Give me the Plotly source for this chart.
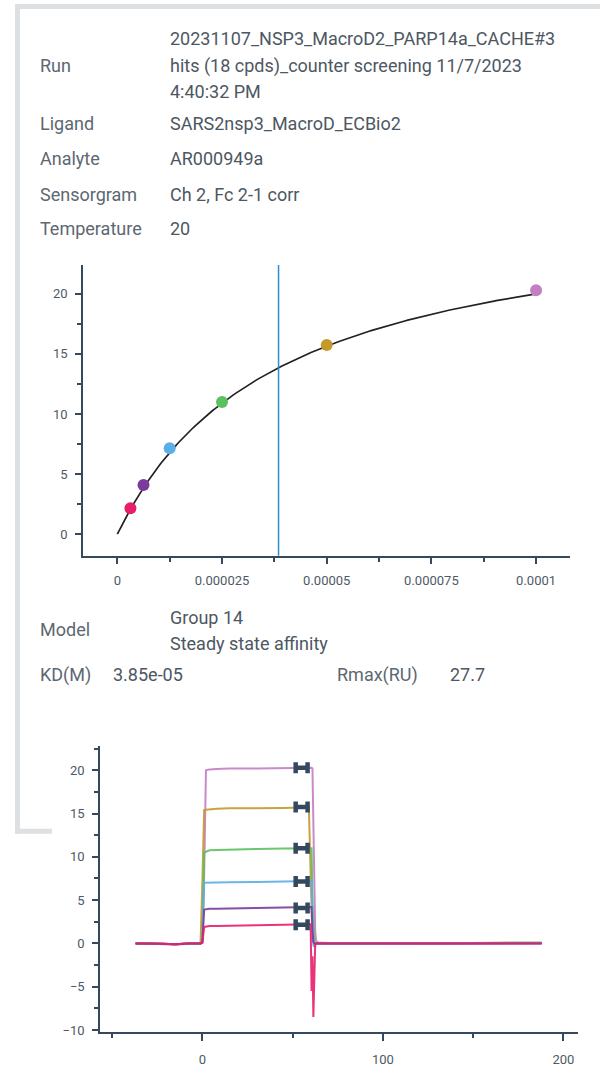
import numpy as np
import plotly.graph_objects as go

W, H = 600, 1067

# ---- steady-state affinity data ----
conc = [3.125e-6, 6.25e-6, 12.5e-6, 25e-6, 50e-6, 100e-6]
resp = [2.15, 4.1, 7.15, 11.0, 15.75, 20.3]
colors = ["#e91e6b", "#7b3a9e", "#5caee6", "#5cc05e", "#c59a2c", "#c47ec4"]
KD = 3.85e-05
RMAX = 27.7

x_tickvals = [0, 0.000025, 0.00005, 0.000075, 0.0001]
x_ticktext = ["0", "0.000025", "0.00005", "0.000075", "0.0001"]
y_tickvals = [0, 5, 10, 15, 20]

# ---- sensorgram data (time in s, response in RU) ----
t = [-37, -30, -22, -15, -8, -1, 0, 1, 2, 4, 8, 15, 30, 45, 55, 59, 60,
     60.5, 61, 61.5, 62, 62.5, 63, 64, 70, 90, 110, 130, 150, 170, 188]
sg_orchid = [0.05, 0.0, -0.1, -0.15, -0.05, 0.0, 0.1, 8.0, 20.0, 20.1, 20.15, 20.2,
             20.2, 20.25, 20.3, 20.3, 20.3, 20.3, 20.2, 14.0, 6.0, 1.5, 0.3, 0.1,
             0.05, 0.0, 0.0, -0.05, 0.0, 0.05, 0.05]
sg_gold = [0.0, 0.05, -0.05, -0.1, 0.0, 0.0, 7.0, 15.4, 15.45, 15.5, 15.55, 15.6,
           15.6, 15.65, 15.7, 15.7, 8.0, 2.0, 0.5, 0.1, 0.0, 0.0, 0.0, 0.05,
           0.0, 0.0, 0.0, 0.0, 0.0, 0.05, 0.05]
sg_green = [0.0, 0.0, -0.05, -0.1, 0.0, 0.0, 0.3, 10.5, 10.6, 10.75, 10.8, 10.85,
            10.9, 10.95, 11.0, 11.0, 11.0, 11.0, 5.0, 1.0, 0.1, 0.0, 0.0, 0.05,
            0.05, 0.0, 0.05, 0.0, 0.05, 0.1, 0.1]
sg_blue = [0.0, 0.0, -0.05, -0.1, 0.0, 0.0, 0.2, 7.0, 7.0, 7.0, 7.05, 7.05,
           7.1, 7.15, 7.2, 7.2, 7.2, 7.2, 3.0, -0.2, -0.4, -0.1, 0.0, 0.0,
           0.0, 0.0, 0.0, 0.0, 0.0, 0.05, 0.05]
sg_purple = [0.0, 0.0, -0.05, -0.1, 0.0, 0.0, 0.1, 3.9, 3.95, 4.0, 4.0, 4.05,
             4.1, 4.15, 4.2, 4.2, 4.2, 4.2, 1.5, 0.2, 0.0, 0.0, 0.0, 0.0,
             0.0, 0.0, 0.0, -0.05, 0.0, 0.0, 0.0]
sg_pink = [0.0, 0.0, -0.05, -0.1, 0.0, 0.0, 0.1, 1.9, 1.95, 2.0, 2.0, 2.05,
           2.1, 2.15, 2.2, 2.2, 2.2, -5.5, -1.5, -8.5, -2.0, -0.2, 0.0, 0.0,
           0.0, 0.0, 0.0, 0.0, 0.0, 0.0, 0.0]
sensorgrams = [sg_pink, sg_purple, sg_blue, sg_green, sg_gold, sg_orchid]
report_time = 55
sg_xticks = [0, 100, 200]
sg_yticks = [-10, -5, 0, 5, 10, 15, 20]

# ---- header text ----
run_lines = ["20231107_NSP3_MacroD2_PARP14a_CACHE#3",
             "hits (18 cpds)_counter screening 11/7/2023",
             "4:40:32 PM"]
info_rows = [("Ligand", "SARS2nsp3_MacroD_ECBio2"),
             ("Analyte", "AR000949a"),
             ("Sensorgram", "Ch 2, Fc 2-1 corr"),
             ("Temperature", "20")]
model_lines = ["Group 14", "Steady state affinity"]

AXIS = "#34495e"
TICKFONT = dict(family="Roboto", size=13, color="#4e5a66")
LABEL = "#5d6772"
VALUE = "#4d5762"
FONT = "Roboto"
FS = 18


def px(x):
    return x / W


def py(y):
    return 1 - y / H


fig = go.Figure()

# fitted steady-state curve
c_fit = np.linspace(0, max(conc), 200)
r_fit = RMAX * c_fit / (KD + c_fit)
fig.add_trace(go.Scatter(x=c_fit, y=r_fit, mode="lines",
                         line=dict(color="#222222", width=1.7),
                         xaxis="x", yaxis="y", hoverinfo="skip"))
fig.add_trace(go.Scatter(x=conc, y=resp, mode="markers",
                         marker=dict(color=colors, size=12, line=dict(width=0)),
                         xaxis="x", yaxis="y"))

# sensorgram curves
order = [5, 4, 3, 2, 1, 0]
for i in order:
    fig.add_trace(go.Scatter(x=t, y=sensorgrams[i], mode="lines",
                             line=dict(color=colors[i], width=2),
                             opacity=0.9, xaxis="x2", yaxis="y2"))

# report points
fig.add_trace(go.Scatter(x=[report_time] * len(resp), y=resp, mode="markers",
                         marker=dict(size=1, color=AXIS),
                         error_x=dict(type="constant", value=3.3, color=AXIS,
                                      thickness=4.5, width=5.5),
                         xaxis="x2", yaxis="y2"))

axis_common = dict(showline=True, linecolor=AXIS, linewidth=1.5, ticks="outside",
                   tickcolor=AXIS, tickwidth=1.5, showgrid=False, zeroline=False,
                   tickfont=TICKFONT, fixedrange=True)

fig.update_layout(
    width=W, height=H, margin=dict(l=0, r=0, t=0, b=0),
    paper_bgcolor="white", plot_bgcolor="white", showlegend=False,
    xaxis=dict(domain=[px(83), px(570)], range=[-8.2e-6, 1.081e-4],
               anchor="y", tickmode="array", tickvals=x_tickvals,
               ticktext=x_ticktext, ticklen=6, ticklabelstandoff=6,
               minor=dict(dtick=1.25e-5, tick0=0, ticklen=4, tickcolor=AXIS,
                          tickwidth=1.5, ticks="outside", showgrid=False),
               **axis_common),
    yaxis=dict(domain=[py(560), py(267)], range=[-1.8, 22.4], anchor="x",
               tickmode="array", tickvals=y_tickvals, ticklen=6,
               ticklabelstandoff=5,
               minor=dict(dtick=2.5, tick0=0, ticklen=4, tickcolor=AXIS,
                          tickwidth=1.5, ticks="outside", showgrid=False),
               **axis_common),
    xaxis2=dict(domain=[px(100), px(578)], range=[-56.7, 208.1], anchor="y2",
                tickmode="array", tickvals=sg_xticks, ticklen=7,
                ticklabelstandoff=7,
                minor=dict(dtick=50, tick0=0, ticklen=4, tickcolor=AXIS,
                           tickwidth=1.5, ticks="outside", showgrid=False),
                **axis_common),
    yaxis2=dict(domain=[py(1040), py(752)], range=[-10.26, 22.76], anchor="x2",
                tickmode="array", tickvals=sg_yticks, ticklen=6,
                ticklabelstandoff=5,
                minor=dict(dtick=2.5, tick0=0, ticklen=4, tickcolor=AXIS,
                           tickwidth=1.5, ticks="outside", showgrid=False),
                **axis_common),
)

# KD marker line
fig.add_shape(type="line", xref="x", yref="paper", x0=KD, x1=KD,
              y0=py(560), y1=py(267), line=dict(color="#2b8fca", width=1.5))

# panel frame
FRAME = "#dde0e3"
fig.add_shape(type="rect", xref="paper", yref="paper", x0=px(15), x1=px(600),
              y0=py(9), y1=py(4), fillcolor=FRAME, line_width=0, layer="below")
fig.add_shape(type="rect", xref="paper", yref="paper", x0=px(15), x1=px(20),
              y0=py(840), y1=py(4), fillcolor=FRAME, line_width=0, layer="below")
fig.add_shape(type="rect", xref="paper", yref="paper", x0=px(15), x1=px(52),
              y0=py(840), y1=py(835), fillcolor=FRAME, line_width=0, layer="below")


def text(x, y, s, color):
    fig.add_annotation(x=px(x - 2), y=py(y), xref="paper", yref="paper", text=s,
                       showarrow=False, xanchor="left", yanchor="middle",
                       font=dict(family=FONT, size=FS, color=color))


text(40, 66, "Run", LABEL)
for yy, line in zip([39, 66, 92], run_lines):
    text(170, yy, line, VALUE)
for yy, (lab, val) in zip([124, 160, 196, 230], info_rows):
    text(40, yy, lab, LABEL)
    text(170, yy, val, VALUE)

text(40, 634, "Model", LABEL)
text(170, 622, model_lines[0], VALUE)
text(170, 648, model_lines[1], VALUE)
text(40, 680, "KD(M)", LABEL)
text(113, 680, f"{KD:.2e}", VALUE)
text(337, 680, "Rmax(RU)", LABEL)
text(450, 680, f"{RMAX}", VALUE)

fig.write_html("out.html")
